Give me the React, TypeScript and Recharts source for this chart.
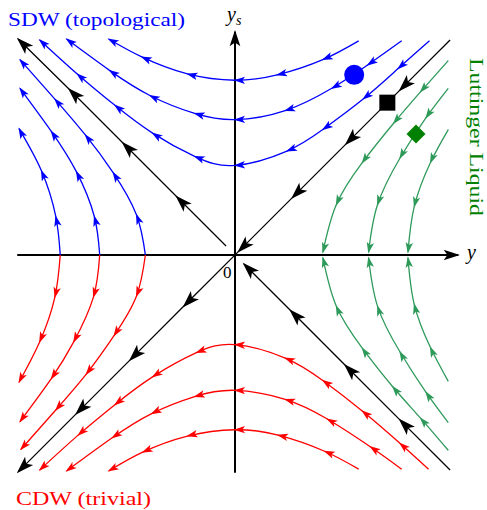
// App.tsx
import React from 'react';
import { ComposedChart, Line, Scatter, XAxis, YAxis } from 'recharts';

type Pt = { x: number; y: number; a?: number };

// a: 1 marks a flow arrowhead at that point (curves run in flow direction)

// upper hyperbolas (SDW side), flowing right -> left
const blueTopInner: Pt[] = [
  { x: 2.17, y: 2.39 }, { x: 1.82, y: 2.08, a: 1 }, { x: 1.43, y: 1.74, a: 1 }, { x: 0.98, y: 1.4, a: 1 },
  { x: 0.58, y: 1.16, a: 1 }, { x: 0, y: 1.0, a: 1 }, { x: -0.45, y: 1.1, a: 1 }, { x: -0.92, y: 1.36, a: 1 },
  { x: -1.34, y: 1.67, a: 1 }, { x: -1.76, y: 2.02, a: 1 }, { x: -2.18, y: 2.4, a: 1 },
];
const blueTopMid: Pt[] = [
  { x: 1.86, y: 2.39 }, { x: 1.48, y: 2.12, a: 1 }, { x: 1.08, y: 1.86, a: 1 }, { x: 0.56, y: 1.61, a: 1 },
  { x: 0, y: 1.51, a: 1 }, { x: -0.45, y: 1.58, a: 1 }, { x: -0.95, y: 1.78, a: 1 }, { x: -1.4, y: 2.06, a: 1 },
  { x: -1.88, y: 2.41, a: 1 },
];
const blueTopOuter: Pt[] = [
  { x: 1.38, y: 2.39 }, { x: 0.98, y: 2.18, a: 1 }, { x: 0.47, y: 2.01, a: 1 }, { x: 0, y: 1.95, a: 1 },
  { x: -0.53, y: 2.02, a: 1 }, { x: -1.04, y: 2.21, a: 1 }, { x: -1.41, y: 2.41, a: 1 },
];

// lower hyperbolas (CDW side), flowing right -> left
const redBottomInner: Pt[] = [
  { x: 2.16, y: -2.39 }, { x: 1.84, y: -2.1, a: 1 }, { x: 1.42, y: -1.74, a: 1 }, { x: 0.98, y: -1.4, a: 1 },
  { x: 0.56, y: -1.15, a: 1 }, { x: 0, y: -1.0, a: 1 }, { x: -0.43, y: -1.09, a: 1 }, { x: -0.92, y: -1.36, a: 1 },
  { x: -1.34, y: -1.67, a: 1 }, { x: -1.75, y: -2.01, a: 1 }, { x: -2.18, y: -2.4, a: 1 },
];
const redBottomMid: Pt[] = [
  { x: 1.86, y: -2.39 }, { x: 1.51, y: -2.14, a: 1 }, { x: 1.03, y: -1.83, a: 1 }, { x: 0.56, y: -1.61, a: 1 },
  { x: 0, y: -1.51, a: 1 }, { x: -0.45, y: -1.58, a: 1 }, { x: -0.93, y: -1.77, a: 1 }, { x: -1.37, y: -2.04, a: 1 },
  { x: -1.88, y: -2.41, a: 1 },
];
const redBottomOuter: Pt[] = [
  { x: 1.38, y: -2.39 }, { x: 1.0, y: -2.19, a: 1 }, { x: 0.48, y: -2.01, a: 1 }, { x: 0, y: -1.95, a: 1 },
  { x: -0.53, y: -2.02, a: 1 }, { x: -1.03, y: -2.2, a: 1 }, { x: -1.41, y: -2.41, a: 1 },
];

// left hyperbolas: upper half blue (flows up), lower half red (flows down)
const blueLeftInner: Pt[] = [
  { x: -1.0, y: 0 }, { x: -1.1, y: 0.45, a: 1 }, { x: -1.36, y: 0.92, a: 1 }, { x: -1.67, y: 1.34, a: 1 },
  { x: -2.01, y: 1.74, a: 1 }, { x: -2.4, y: 2.18, a: 1 },
];
const blueLeftMid: Pt[] = [
  { x: -1.51, y: 0 }, { x: -1.57, y: 0.43, a: 1 }, { x: -1.77, y: 0.93, a: 1 }, { x: -2.05, y: 1.38, a: 1 },
  { x: -2.4, y: 1.86, a: 1 },
];
const blueLeftOuter: Pt[] = [
  { x: -1.95, y: 0 }, { x: -2.0, y: 0.43, a: 1 }, { x: -2.16, y: 0.94, a: 1 }, { x: -2.41, y: 1.41, a: 1 },
];
const redLeftInner: Pt[] = [
  { x: -1.0, y: 0 }, { x: -1.1, y: -0.46, a: 1 }, { x: -1.35, y: -0.9, a: 1 }, { x: -1.66, y: -1.33, a: 1 },
  { x: -2.0, y: -1.73, a: 1 }, { x: -2.39, y: -2.17, a: 1 },
];
const redLeftMid: Pt[] = [
  { x: -1.51, y: 0 }, { x: -1.58, y: -0.47, a: 1 }, { x: -1.8, y: -0.97, a: 1 }, { x: -2.05, y: -1.38, a: 1 },
  { x: -2.4, y: -1.86, a: 1 },
];
const redLeftOuter: Pt[] = [
  { x: -1.95, y: 0 }, { x: -2.01, y: -0.47, a: 1 }, { x: -2.18, y: -0.97, a: 1 }, { x: -2.41, y: -1.42, a: 1 },
];

// right hyperbolas (Luttinger liquid), flowing onto the y axis
const greenUpperInner: Pt[] = [
  { x: 2.38, y: 2.17 }, { x: 2.07, y: 1.82, a: 1 }, { x: 1.77, y: 1.47, a: 1 }, { x: 1.42, y: 1.03, a: 1 },
  { x: 1.13, y: 0.56, a: 1 }, { x: 0.98, y: 0.03, a: 1 },
];
const greenUpperMid: Pt[] = [
  { x: 2.38, y: 1.86 }, { x: 2.13, y: 1.53, a: 1 }, { x: 1.84, y: 1.08, a: 1 }, { x: 1.59, y: 0.56, a: 1 },
  { x: 1.49, y: 0.03, a: 1 },
];
const greenUpperOuter: Pt[] = [
  { x: 2.38, y: 1.4 }, { x: 2.18, y: 1.03, a: 1 }, { x: 2.0, y: 0.54, a: 1 }, { x: 1.93, y: 0.03, a: 1 },
];
const greenLowerInner: Pt[] = [
  { x: 2.38, y: -2.18 }, { x: 2.07, y: -1.82, a: 1 }, { x: 1.76, y: -1.47, a: 1 }, { x: 1.42, y: -1.04, a: 1 },
  { x: 1.13, y: -0.57, a: 1 }, { x: 0.98, y: -0.03, a: 1 },
];
const greenLowerMid: Pt[] = [
  { x: 2.38, y: -1.87 }, { x: 2.13, y: -1.53, a: 1 }, { x: 1.84, y: -1.08, a: 1 }, { x: 1.59, y: -0.57, a: 1 },
  { x: 1.49, y: -0.03, a: 1 },
];
const greenLowerOuter: Pt[] = [
  { x: 2.38, y: -1.41 }, { x: 2.18, y: -1.03, a: 1 }, { x: 2.0, y: -0.55, a: 1 }, { x: 1.93, y: -0.03, a: 1 },
];

// separatrices
const diagMain: Pt[] = [
  { x: 2.4, y: 2.4 }, { x: 1.84, y: 1.84, a: 1 }, { x: 1.24, y: 1.24, a: 1 }, { x: 0.64, y: 0.64, a: 1 },
  { x: 0.04, y: 0.04, a: 1 }, { x: -0.57, y: -0.57, a: 1 }, { x: -1.17, y: -1.17, a: 1 },
  { x: -1.77, y: -1.77, a: 1 }, { x: -2.42, y: -2.42, a: 1 },
];
const diagAntiLower: Pt[] = [
  { x: 2.4, y: -2.4 }, { x: 1.84, y: -1.84, a: 1 }, { x: 1.23, y: -1.23, a: 1 }, { x: 0.62, y: -0.62, a: 1 },
  { x: 0.1, y: -0.1, a: 1 },
];
const diagAntiUpper: Pt[] = [
  { x: -0.1, y: 0.1 }, { x: -0.65, y: 0.65, a: 1 }, { x: -1.25, y: 1.25, a: 1 }, { x: -1.85, y: 1.85, a: 1 },
  { x: -2.42, y: 2.41, a: 1 },
];

// axes
const axisY: Pt[] = [{ x: -2.43, y: 0 }, { x: 2.49, y: 0, a: 1 }];
const axisYs: Pt[] = [{ x: 0, y: -2.43 }, { x: 0, y: 2.49, a: 1 }];

// fixed points
const circlePoint = [{ x: 1.33, y: 2.01 }];
const squarePoint = [{ x: 1.7, y: 1.7 }];
const diamondPoint = [{ x: 2.02, y: 1.35 }];

const BLUE = '#0000ff';
const RED = '#ff0000';
const GREEN = '#2e9a5a';
const DARKGREEN = '#008000';
const BLACK = '#000000';

function arrowDot(data: Pt[], color: string, size: number) {
  return (props: any) => {
    const { cx, cy, index } = props;
    const p = data[index];
    if (!p || !p.a || cx == null || cy == null) return <g key={`n-${index}`} />;
    const prev = data[Math.max(index - 1, 0)];
    const next = data[Math.min(index + 1, data.length - 1)];
    const deg = (Math.atan2(-(next.y - prev.y), next.x - prev.x) * 180) / Math.PI;
    return (
      <path
        key={`a-${index}`}
        d="M1.2,0 L-10,-3.7 L-7.4,0 L-10,3.7 Z"
        fill={color}
        transform={`translate(${cx},${cy}) rotate(${deg}) scale(${size})`}
      />
    );
  };
}

function flow(data: Pt[], color: string, width: number, head: number, curve: 'natural' | 'linear', key: string) {
  return (
    <Line
      key={key}
      data={data}
      dataKey="y"
      type={curve}
      stroke={color}
      strokeWidth={width}
      dot={arrowDot(data, color, head)}
      activeDot={false}
      isAnimationActive={false}
    />
  );
}

export default function App() {
  return (
    <div style={{ position: 'absolute', left: 0, top: 0, width: 487, height: 510, background: '#fff' }}>
      <ComposedChart width={487} height={510} margin={{ top: 22, right: 19, bottom: 22, left: 2 }}>
        <XAxis type="number" dataKey="x" domain={[-2.6, 2.6]} hide allowDataOverflow />
        <YAxis type="number" dataKey="y" domain={[-2.6, 2.6]} hide allowDataOverflow />

        {flow(axisY, BLACK, 2, 1.45, 'linear', 'ax1')}
        {flow(axisYs, BLACK, 2, 1.45, 'linear', 'ax2')}

        {flow(blueTopInner, BLUE, 1.3, 1, 'natural', 'bt1')}
        {flow(blueTopMid, BLUE, 1.3, 1, 'natural', 'bt2')}
        {flow(blueTopOuter, BLUE, 1.3, 1, 'natural', 'bt3')}
        {flow(redBottomInner, RED, 1.3, 1, 'natural', 'rb1')}
        {flow(redBottomMid, RED, 1.3, 1, 'natural', 'rb2')}
        {flow(redBottomOuter, RED, 1.3, 1, 'natural', 'rb3')}
        {flow(blueLeftInner, BLUE, 1.3, 1, 'natural', 'bl1')}
        {flow(blueLeftMid, BLUE, 1.3, 1, 'natural', 'bl2')}
        {flow(blueLeftOuter, BLUE, 1.3, 1, 'natural', 'bl3')}
        {flow(redLeftInner, RED, 1.3, 1, 'natural', 'rl1')}
        {flow(redLeftMid, RED, 1.3, 1, 'natural', 'rl2')}
        {flow(redLeftOuter, RED, 1.3, 1, 'natural', 'rl3')}
        {flow(greenUpperInner, GREEN, 1.3, 1, 'natural', 'gu1')}
        {flow(greenUpperMid, GREEN, 1.3, 1, 'natural', 'gu2')}
        {flow(greenUpperOuter, GREEN, 1.3, 1, 'natural', 'gu3')}
        {flow(greenLowerInner, GREEN, 1.3, 1, 'natural', 'gl1')}
        {flow(greenLowerMid, GREEN, 1.3, 1, 'natural', 'gl2')}
        {flow(greenLowerOuter, GREEN, 1.3, 1, 'natural', 'gl3')}

        {flow(diagMain, BLACK, 1.3, 1.55, 'linear', 'd1')}
        {flow(diagAntiLower, BLACK, 1.3, 1.55, 'linear', 'd2')}
        {flow(diagAntiUpper, BLACK, 1.3, 1.55, 'linear', 'd3')}

        <Scatter
          data={circlePoint}
          isAnimationActive={false}
          shape={(p: any) => <circle cx={p.cx} cy={p.cy} r={10} fill={BLUE} />}
        />
        <Scatter
          data={squarePoint}
          isAnimationActive={false}
          shape={(p: any) => <rect x={p.cx - 8} y={p.cy - 8} width={16} height={16} fill={BLACK} />}
        />
        <Scatter
          data={diamondPoint}
          isAnimationActive={false}
          shape={(p: any) => (
            <path
              d={`M${p.cx},${p.cy - 9.5} L${p.cx + 9.5},${p.cy} L${p.cx},${p.cy + 9.5} L${p.cx - 9.5},${p.cy} Z`}
              fill={DARKGREEN}
            />
          )}
        />
      </ComposedChart>

      <svg
        width={487}
        height={510}
        style={{ position: 'absolute', left: 0, top: 0, pointerEvents: 'none' }}
        fontFamily="'Liberation Serif', 'DejaVu Serif', serif"
      >
        <text x={8} y={26} fontSize={19} fill={BLUE} textLength={177} lengthAdjust="spacingAndGlyphs">
          SDW (topological)
        </text>
        <text x={16} y={505} fontSize={19} fill={RED} textLength={135} lengthAdjust="spacingAndGlyphs">
          CDW (trivial)
        </text>
        <text
          transform="translate(470,58) rotate(90)"
          fontSize={18}
          fill={DARKGREEN}
          textLength={158}
          lengthAdjust="spacingAndGlyphs"
        >
          Luttinger Liquid
        </text>
        <text x={467} y={259} fontSize={20} fontStyle="italic" fill={BLACK}>
          y
        </text>
        <text x={227} y={21} fontSize={20} fontStyle="italic" fill={BLACK}>
          y
          <tspan fontSize={14} dy={4}>
            s
          </tspan>
        </text>
        <text x={223} y={278} fontSize={17} fill={BLACK}>
          0
        </text>
      </svg>
    </div>
  );
}
